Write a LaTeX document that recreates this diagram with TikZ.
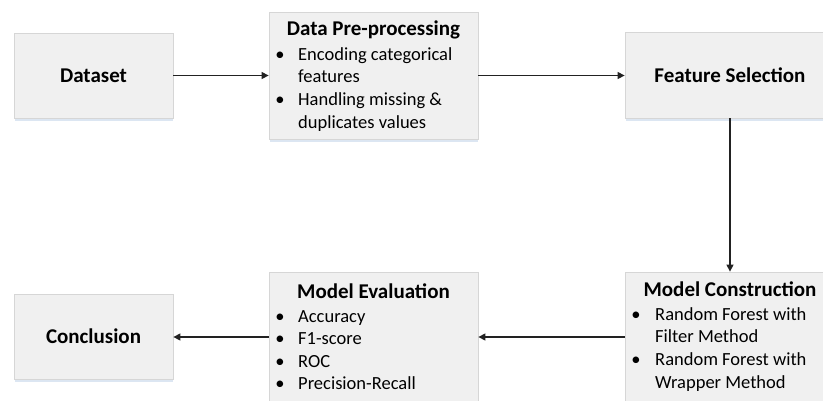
\documentclass[tikz,border=0pt]{standalone}
\usepackage{fontspec}
\setmainfont{Carlito}
\usetikzlibrary{arrows.meta}
\definecolor{boxfill}{HTML}{F0F0F0}
\definecolor{boxline}{HTML}{D6D6D6}
\definecolor{shadowblue}{HTML}{DCE6F2}
\definecolor{arrowcol}{HTML}{222222}
\tikzset{
  box/.style={draw=boxline, fill=boxfill, line width=0.8pt, inner sep=0pt},
  shadowline/.style={draw=shadowblue, line width=1.6pt},
  flow/.style={draw=arrowcol, line width=1.3pt, -{Triangle[length=7pt,width=7pt]}},
  title/.style={font=\fontsize{21}{24}\selectfont\bfseries, inner sep=0pt, anchor=base},
  item/.style={font=\fontsize{18.5}{23}\selectfont, inner sep=0pt, anchor=base west},
  bul/.style={font=\fontsize{18.5}{23}\selectfont, inner sep=0pt, anchor=base},
}
\begin{document}
\begin{tikzpicture}[x=1pt,y=-1pt]
\useasboundingbox (0,0) rectangle (823,400);
% shadows
\draw[shadowline] (15,120) -- (173,120);
\draw[shadowline] (270,141) -- (478,141);
\draw[shadowline] (626,120) -- (823,120);
\draw[shadowline] (15,381) -- (173,381);
% boxes
\node[box, minimum width=159pt, minimum height=85pt] (dataset) at (93.5,75.5) {};
\node[box, minimum width=209pt, minimum height=127pt] (prep) at (373.5,75.5) {};
\node[box, minimum width=210pt, minimum height=86pt] (fs) at (730,75) {};
\node[box, minimum width=210pt, minimum height=140pt] (mc) at (730,342) {};
\node[box, minimum width=209pt, minimum height=140pt] (me) at (373.5,342) {};
\node[box, minimum width=159pt, minimum height=85pt] (concl) at (93.5,336.5) {};
% texts
\node[title] (tds) at (93.5,82) {Dataset};
\node[title] (tfs) at (730,82) {Feature Selection};
\node[title] (tcon) at (93.5,343) {Conclusion};
\node[title] (tprep) at (373.5,35) {Data Pre-processing};
\node[bul] (bp1) at (280,60) {\textbullet};
\node[item] (p1) at (298,60) {Encoding categorical};
\node[item] (p2) at (298,82) {features};
\node[bul] (bp3) at (280,105) {\textbullet};
\node[item] (p3) at (298,105) {Handling missing \&};
\node[item] (p4) at (298,128) {duplicates values};
\node[title] (tme) at (373.5,298) {Model Evaluation};
\node[bul] (bm1) at (280,322) {\textbullet};
\node[item] (m1) at (298,322) {Accuracy};
\node[bul] (bm2) at (280,344) {\textbullet};
\node[item] (m2) at (298,344) {F1-score};
\node[bul] (bm3) at (280,367) {\textbullet};
\node[item] (m3) at (298,367) {ROC};
\node[bul] (bm4) at (280,389) {\textbullet};
\node[item] (m4) at (298,389) {Precision-Recall};
\node[title] (tmc) at (730,296) {Model Construction};
\node[bul] (bc1) at (636,320) {\textbullet};
\node[item] (c1) at (655,320) {Random Forest with};
\node[item] (c2) at (655,342) {Filter Method};
\node[bul] (bc3) at (636,365) {\textbullet};
\node[item] (c3) at (655,365) {Random Forest with};
\node[item] (c4) at (655,388) {Wrapper Method};
% arrows
\draw[flow] (dataset.east) -- (dataset.east -| prep.west);
\draw[flow] (prep.east) -- (prep.east -| fs.west);
\draw[flow] (fs.south) -- (mc.north);
\draw[flow] (mc.west |- 0,337) -- (me.east |- 0,337);
\draw[flow] (me.west |- 0,337) -- (concl.east |- 0,337);
\end{tikzpicture}
\end{document}
